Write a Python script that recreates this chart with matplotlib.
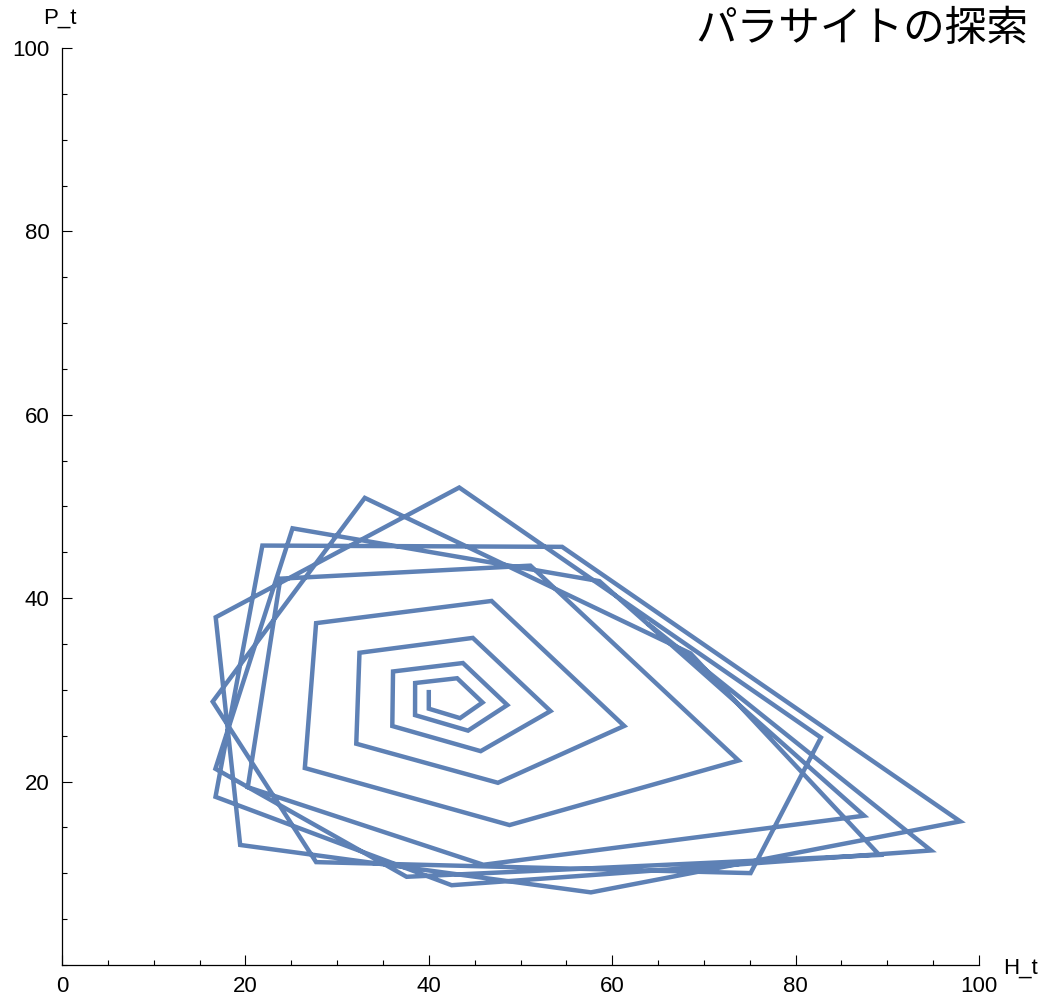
import matplotlib.pyplot as plt
from matplotlib.ticker import MultipleLocator

# host / parasite trajectory (one point per generation)
host = [40.00, 40.00, 43.41, 45.86, 43.09, 38.51, 38.50, 44.28, 48.56, 43.72,
        36.10, 36.02, 45.66, 53.27, 44.80, 32.44, 32.09, 47.54, 61.31, 46.85,
        27.71, 26.48, 48.80, 73.78, 51.08, 23.81, 20.26, 45.95, 87.47, 58.60,
        25.14, 16.73, 37.58, 89.13, 68.54, 33.02, 16.43, 27.71, 75.09, 82.76,
        43.32, 16.76, 19.43, 57.68, 97.95, 54.54, 21.85, 16.74, 42.49, 94.77,
        63.85]
parasite = [30.00, 27.95, 26.92, 28.63, 31.27, 30.75, 27.25, 25.56, 28.35, 32.93,
            32.01, 26.06, 23.32, 27.69, 35.67, 34.05, 24.13, 19.87, 26.07, 39.70,
            37.28, 21.48, 15.26, 22.30, 43.55, 42.13, 19.39, 10.93, 16.28, 41.86,
            47.62, 21.40, 9.62, 12.00, 33.98, 50.94, 28.72, 11.22, 10.02, 24.80,
            52.07, 37.92, 13.09, 7.92, 15.66, 45.60, 45.74, 18.34, 8.70, 12.49,
            37.26]

x_ticks = [0, 20, 40, 60, 80, 100]
y_ticks = [20, 40, 60, 80, 100]

plt.rcParams['font.family'] = ['Liberation Sans', 'DejaVu Sans']

fig = plt.figure(figsize=(10.48, 10.05), dpi=100)
ax = fig.add_axes([62 / 1048, 40 / 1005, 917 / 1048, 917 / 1005])

ax.plot(host, parasite, color="#5E81B5", lw=3.2,
        solid_joinstyle='miter', solid_capstyle='butt')

ax.set_xlim(0, 100)
ax.set_ylim(0, 100)
ax.spines['top'].set_visible(False)
ax.spines['right'].set_visible(False)
ax.spines['left'].set_linewidth(0.9)
ax.spines['bottom'].set_linewidth(0.9)

ax.set_xticks(x_ticks)
ax.set_yticks(y_ticks)
ax.xaxis.set_minor_locator(MultipleLocator(5))
ax.yaxis.set_minor_locator(MultipleLocator(5))
ax.tick_params(which='major', direction='in', length=7, width=0.8, labelsize=16)
ax.tick_params(which='minor', direction='in', length=3.8, width=0.8)
ax.tick_params(axis='x', which='major', pad=8)
ax.tick_params(axis='y', which='major', pad=9)

fig.text(1003 / 1048, 1 - 968 / 1005, "H_t", fontsize=16, ha='left', va='center')
fig.text(60 / 1048, 1 - 18 / 1005, "P_t", fontsize=16, ha='center', va='center')
fig.text(695 / 1048, 1 - 30 / 1005, "パラサイトの探索", fontsize=30,
         family=['Noto Sans CJK JP', 'DejaVu Sans'], ha='left', va='center')

fig.savefig("out.png", dpi=100)
